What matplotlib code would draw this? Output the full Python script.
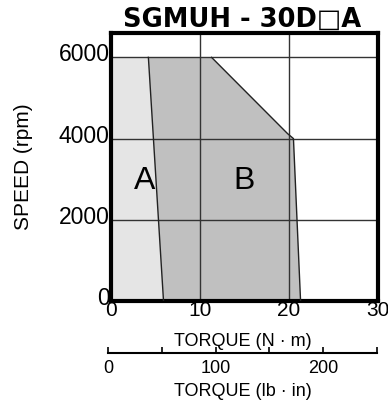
import matplotlib
matplotlib.use("Agg")
import matplotlib.pyplot as plt
import matplotlib.transforms as mtransforms

plt.rcParams['font.family'] = ['Liberation Sans', 'DejaVu Sans']

# Data
boundary_torque = [4.2, 5.9]          # A/B boundary: torque at 6000 and 0 rpm
boundary_speed = [6000, 0]
b_outer_torque = [11.3, 19.85, 20.5, 21.3]   # outer edge of region B
b_outer_speed = [6000, 4120, 4000, 0]
x_ticks = [0, 10, 20, 30]
y_ticks = [0, 2000, 4000, 6000]
lbin_ticks = [0, 50, 100, 150, 200, 250]
lbin_labels = ["0", "", "100", "", "200", ""]

fig = plt.figure(figsize=(3.88, 4.04), dpi=100)
ax = fig.add_axes([111/388, 1-301/404, (378-111)/388, (301-33)/404])
ax.set_xlim(0, 30)
ax.set_ylim(0, 6600)

# region A
ax.fill(
    [0, boundary_torque[0], boundary_torque[1], 0],
    [6000, boundary_speed[0], boundary_speed[1], 0],
    color="#e5e5e5", lw=0, zorder=1)
# region B
bx = [boundary_torque[0]] + b_outer_torque + [boundary_torque[1]]
by = [boundary_speed[0]] + b_outer_speed + [boundary_speed[1]]
ax.fill(bx, by, color="#c0c0c0", lw=0, zorder=1)

# grid
for v in y_ticks[1:]:
    ax.axhline(v, color="#333333", lw=1.0, zorder=2)
for v in x_ticks[1:-1]:
    ax.axvline(v, color="#333333", lw=1.0, zorder=2)

# outline lines
ax.plot(boundary_torque, boundary_speed, color="#222222", lw=1.0, zorder=3)
ax.plot(b_outer_torque, b_outer_speed, color="#222222", lw=1.0, zorder=3)

ax.text(3.8, 2950, "A", fontsize=23, ha="center", va="center", zorder=4)
ax.text(14.9, 2950, "B", fontsize=23, ha="center", va="center", zorder=4)

for s in ax.spines.values():
    s.set_linewidth(3)
    s.set_color("black")
ax.set_xticks(x_ticks)
ax.set_yticks(y_ticks)
ax.set_xticklabels([str(v) for v in x_ticks])
ax.set_yticklabels([str(v) for v in y_ticks])
ax.tick_params(axis="x", length=0, labelsize=15, pad=0)
ax.tick_params(axis="y", length=0, labelsize=16.5, pad=1)
shift = mtransforms.ScaledTranslation(0, 5/100, fig.dpi_scale_trans)
for lab in ax.get_yticklabels():
    lab.set_transform(lab.get_transform() + shift)
ax.set_ylabel("SPEED (rpm)", fontsize=15)
ax.yaxis.set_label_coords((33-111)/267, 0.5)
ax.set_title("SGMUH - 30D\u25a1A", fontsize=18.5, fontweight="bold", pad=4,
             x=(242-111)/267, family="DejaVu Sans")

fig.text(243/388, 1-342/404, "TORQUE (N \u00b7 m)", fontsize=13, ha="center", va="center")

# secondary torque axis (lb·in)
ax2 = fig.add_axes([108/388, 1-353/404, (377-108)/388, 0.001])
ax2.set_xlim(0, 250)
ax2.set_ylim(0, 1)
for k in ["left", "right", "top"]:
    ax2.spines[k].set_visible(False)
ax2.spines["bottom"].set_linewidth(1.5)
ax2.set_yticks([])
ax2.set_xticks(lbin_ticks)
ax2.set_xticklabels(lbin_labels)
ax2.tick_params(axis="x", direction="in", length=4, width=1.2, labelsize=13, pad=5)
fig.text(243/388, 1-392/404, "TORQUE (lb \u00b7 in)", fontsize=13, ha="center", va="center")

fig.savefig("out.png", dpi=100)
